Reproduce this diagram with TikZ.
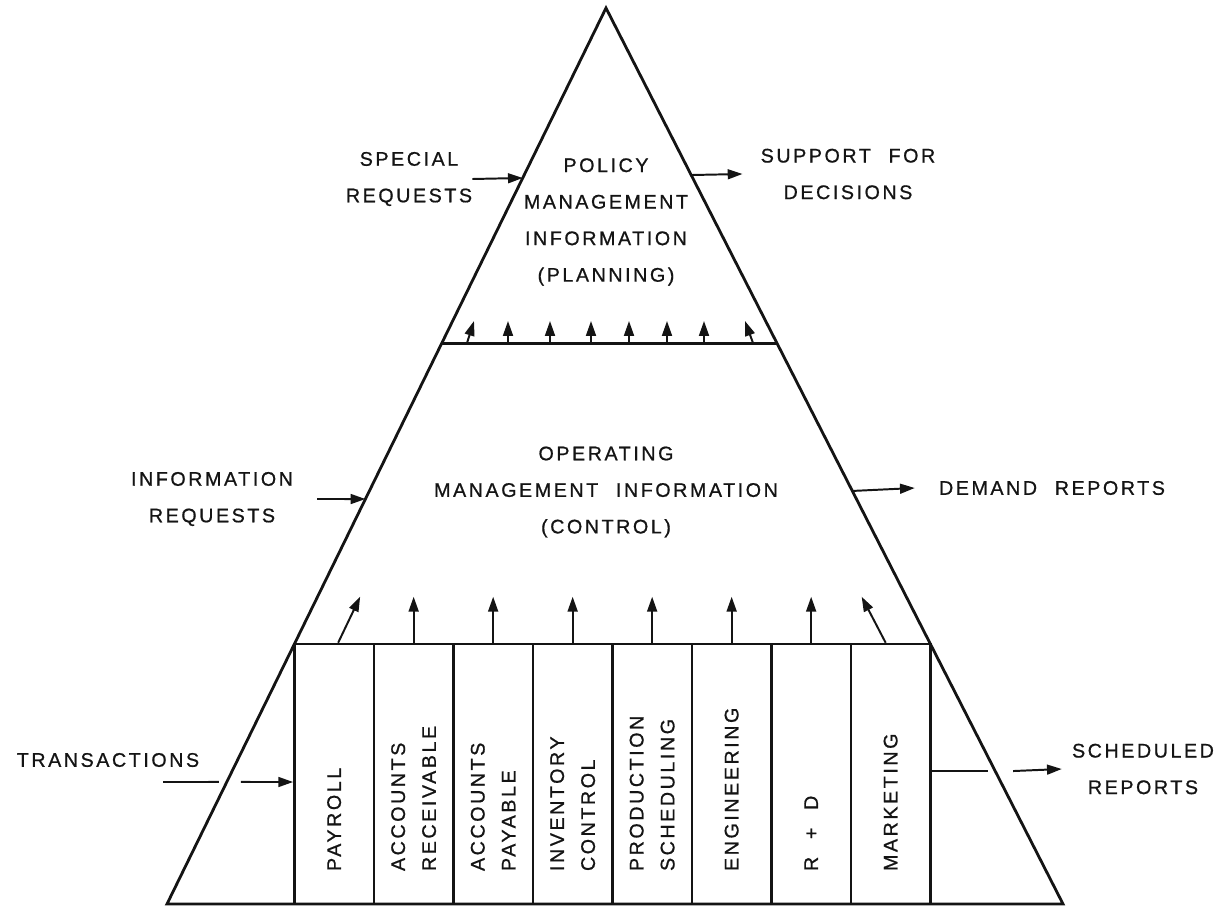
\documentclass[tikz,border=0pt]{standalone}
\usepackage{fontspec}
\setmainfont{Liberation Sans}[LetterSpace=13, FakeBold=0.8]
\usepackage{tikz}
\usetikzlibrary{arrows.meta, calc}
\definecolor{inkcolor}{HTML}{141414}
\newcommand{\wgap}{\hspace{0.9em}}

\begin{document}
\begin{tikzpicture}[x=0.25mm, y=-0.25mm,
    edge/.style={draw=inkcolor, line width=2pt, line join=miter},
    flow/.style={-{Triangle[length=10.5pt,width=7pt]}, draw=inkcolor, line width=1.4pt},
    feed/.style={draw=inkcolor, line width=1.4pt},
    notetext/.style={font=\fontsize{14}{26}\selectfont, text=inkcolor, align=center, inner sep=0pt},
    unitbox/.style={draw=inkcolor, line width=1.8pt, minimum width=19.875mm, minimum height=65mm, inner sep=0pt},
    unitlabel/.style={notetext, font=\fontsize{14}{22}\selectfont, rotate=90, anchor=west, align=left}]
  \useasboundingbox (0,0) rectangle (1219,910);

  % pyramid outline and the planning band
  \coordinate (apex) at (606,8);
  \coordinate (bl) at (167,904);
  \coordinate (br) at (1063,904);
  \draw[edge] (apex) -- (bl) -- (br) -- cycle;
  \draw[edge] ($(apex)!0.374!(bl)$) -- ($(apex)!0.374!(br)$);

  % functional units along the base
  \foreach \i/\unit/\txt in {0/pay/PAYROLL, 1/ar/{ACCOUNTS\\RECEIVABLE},
      2/ap/{ACCOUNTS\\PAYABLE}, 3/inv/{INVENTORY\\CONTROL},
      4/prod/{PRODUCTION\\SCHEDULING}, 5/eng/ENGINEERING,
      6/rd/{R\wgap+\wgap D}, 7/mkt/MARKETING} {
    \node[unitbox] (\unit) at (334.15+79.5*\i,774) {};
    \node[unitlabel] (\unit-txt) at ($(\unit.south)+(0,-34)$) {\txt};
  }

  % upward flows
  \foreach \unit/\s/\t in {pay/4/26, ar/0/0, ap/0/0, inv/0/0,
      prod/0/0, eng/0/0, rd/0/0, mkt/-5/-29}
    \draw[flow] ($(\unit.north)+(\s,0)$) -- ($(\unit.north)+(\t,-46)$);
  \foreach \a/\b [count=\k] in {467/474, 508/508, 550/550, 591/591,
      629/629, 667/667, 704/704, 753/745} {
    \coordinate (pfoot\k) at (\a,343);
    \coordinate (phead\k) at (\b,321);
    \draw[flow] (pfoot\k) -- (phead\k);
  }

  % levels
  \node[notetext] (policy) at (606,222)
    {POLICY\\MANAGEMENT\\INFORMATION\\(PLANNING)};
  \node[notetext] (operating) at (606,492)
    {OPERATING\\MANAGEMENT\wgap INFORMATION\\(CONTROL)};

  % inputs and outputs
  \node[notetext] (special) at (409,179) {SPECIAL\\REQUESTS};
  \node[notetext] (support) at (848,174) {SUPPORT\wgap FOR\\DECISIONS};
  \node[notetext] (inforeq) at (212,499) {INFORMATION\\REQUESTS};
  \node[notetext] (demand) at (1052,488) {DEMAND\wgap REPORTS};
  \node[notetext] (trans) at (108,760) {TRANSACTIONS};
  \node[notetext] (sched) at (1143,769) {SCHEDULED\\REPORTS};

  \coordinate (sr) at ($(apex)!0.1897!(bl)$);
  \coordinate (sd) at ($(apex)!0.1864!(br)$);
  \coordinate (ir) at ($(apex)!0.548!(bl)$);
  \coordinate (dr) at ($(apex)!0.539!(br)$);
  \coordinate (trx) at ($(apex)!0.8638!(bl)$);
  \coordinate (scx) at ($(apex)!0.8516!(br)$);
  \coordinate (trin) at (163,782);

  \draw[flow] (special.east) -- (sr);
  \draw[flow] (sd) -- ($(support.west)+(-18,0)$);
  \draw[flow] ($(inforeq.east)+(24,0)$) -- (ir);
  \draw[flow] (dr) -- ($(demand.west)+(-24,0)$);
  \draw[feed] (trin) -- ($(trx)+(-8,0)$);
  \draw[flow] ($(trx)+(14,0)$) -- (pay.west |- trin);
  \draw[feed] (mkt.east |- scx) -- ($(scx)+(-7,0)$);
  \draw[flow] ($(scx)+(18,0)$) -- ($(sched.west)+(-10,0)$);
\end{tikzpicture}
\end{document}
